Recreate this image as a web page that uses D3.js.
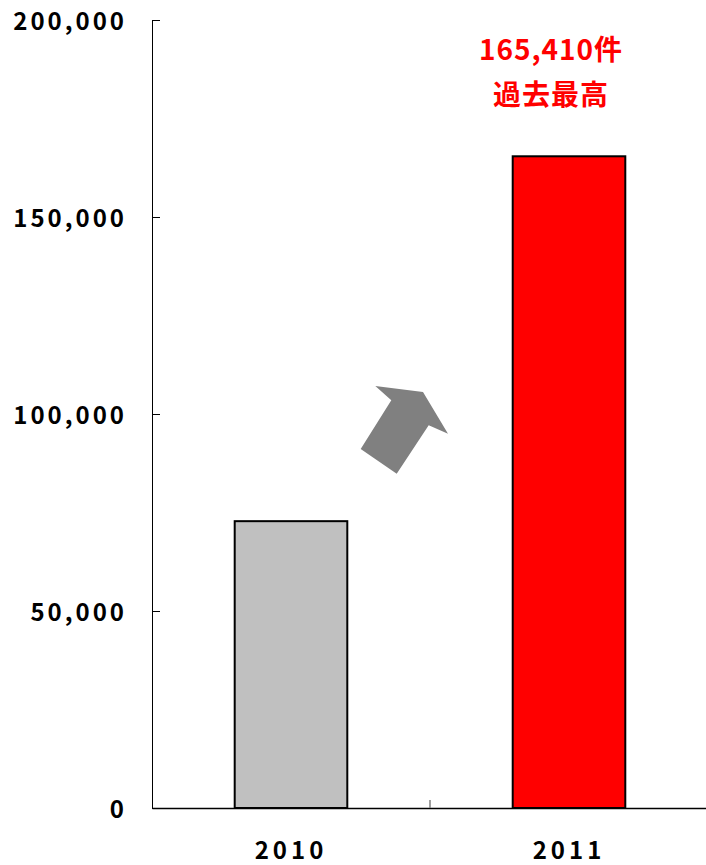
<!DOCTYPE html>
<html>
<head>
<meta charset="utf-8">
<script src="https://cdn.jsdelivr.net/npm/d3@7"></script>
<style>
  body { margin: 0; background: #fff; }
  text { font-family: "Noto Sans CJK JP", "Liberation Sans", sans-serif; font-weight: bold; }
</style>
</head>
<body>
<svg id="chart" width="706" height="865"></svg>
<script>
const years = ["2010", "2011"];
const counts = [72800, 165410];
const barColors = ["#C0C0C0", "#FF0000"];
const yTicks = [0, 50000, 100000, 150000, 200000];
const note = ["165,410件", "過去最高"];

const svg = d3.select("#chart"),
  width = +svg.attr("width"),
  height = +svg.attr("height");

const plotL = 152, plotR = 708, plotT = 20, plotB = 808;

const x = d3.scaleBand().domain(years).range([plotL, plotR]).paddingInner(0).paddingOuter(0);
const y = d3.scaleLinear().domain([0, 200000]).range([plotB, plotT]);
const barW = x.bandwidth() * 0.405;

// bars
svg.selectAll("rect.bar")
  .data(years)
  .enter().append("rect")
  .attr("class", "bar")
  .attr("x", d => x(d) + x.bandwidth() / 2 - barW / 2)
  .attr("y", (d, i) => y(counts[i]))
  .attr("width", barW)
  .attr("height", (d, i) => plotB - y(counts[i]))
  .attr("fill", (d, i) => barColors[i])
  .attr("stroke", "#000")
  .attr("stroke-width", 2);

// y axis
const yAxis = svg.append("g")
  .attr("transform", `translate(${plotL},0)`)
  .call(d3.axisLeft(y).tickValues(yTicks).tickSize(-8).tickPadding(25).tickFormat(d3.format(",")));
yAxis.select(".domain").attr("stroke", "#000").attr("stroke-width", 1);
yAxis.selectAll(".tick line").attr("stroke", "#000");
yAxis.selectAll(".tick text")
  .attr("font-size", 24)
  .attr("font-family", "'Noto Sans CJK JP', sans-serif")
  .attr("font-weight", "bold")
  .attr("letter-spacing", 3)
  .attr("dy", "0.4em")
  .attr("fill", "#000");

// x axis
const xAxis = svg.append("g")
  .attr("transform", `translate(0,${plotB})`)
  .call(d3.axisBottom(x).tickSize(0).tickPadding(34));
xAxis.select(".domain").attr("stroke", "#000").attr("stroke-width", 1.5);
xAxis.selectAll(".tick text")
  .attr("font-size", 24)
  .attr("font-family", "'Noto Sans CJK JP', sans-serif")
  .attr("font-weight", "bold")
  .attr("letter-spacing", 4)
  .attr("fill", "#000");
// divider tick between categories
svg.append("line")
  .attr("x1", x(years[1])).attr("x2", x(years[1]))
  .attr("y1", plotB).attr("y2", plotB - 8)
  .attr("stroke", "#808080").attr("stroke-width", 1.5);

// arrow
const ax = x(years[0]) + x.bandwidth(), ay = y(100000);
const arrowShape = [[-69.3, 35], [-33.3, 59.7], [-1.3, 11.3], [18, 19.7], [-7, -22], [-54.7, -28], [-38.7, -13.7]];
svg.append("polygon")
  .attr("points", arrowShape.map(p => [ax + p[0], ay + p[1]].join(",")).join(" "))
  .attr("fill", "#808080");

// annotation
svg.selectAll("text.note")
  .data(note)
  .enter().append("text")
  .attr("class", "note")
  .attr("x", x(years[1]) + x.bandwidth() / 2 - 18)
  .attr("y", (d, i) => 60 + i * 45)
  .attr("text-anchor", "middle")
  .attr("font-size", 28)
  .attr("letter-spacing", 1)
  .attr("fill", "#FF0000")
  .text(d => d);
</script>
</body>
</html>
